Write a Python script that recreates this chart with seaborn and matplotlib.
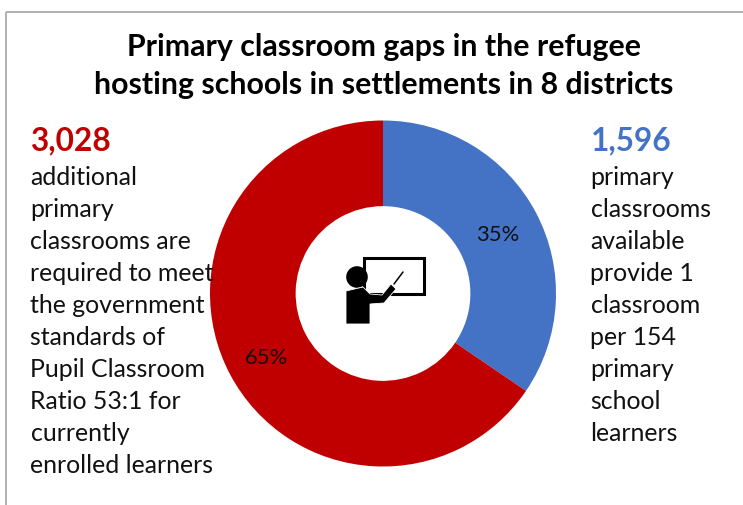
import matplotlib
matplotlib.use("Agg")
import matplotlib.pyplot as plt
from matplotlib.patches import Circle, Polygon, Rectangle
import seaborn as sns

segments = ["Classrooms available", "Additional classrooms required"]
classrooms = [1596, 3028]
segment_colors = ["#4472C4", "#C00000"]
percent_labels = ["35%", "65%"]

title_lines = ["Primary classroom gaps in the refugee", "hosting schools in settlements in 8 districts"]
left_total = "3,028"
left_lines = ["additional", "primary", "classrooms are", "required to meet", "the government",
              "standards of", "Pupil Classroom", "Ratio 53:1 for", "currently", "enrolled learners"]
right_total = "1,596"
right_lines = ["primary", "classrooms", "available", "provide 1", "classroom",
               "per 154", "primary", "school", "learners"]

sns.set_theme(style="white")
plt.rcParams["font.family"] = ["Lato", "DejaVu Sans"]

W, H = 743, 506
fig = plt.figure(figsize=(W / 100, H / 100), dpi=100, facecolor="white")

# Pixel-coordinate canvas for the frame, text and icon
canvas = fig.add_axes([0, 0, 1, 1], zorder=3)
canvas.set_xlim(0, W)
canvas.set_ylim(H, 0)
canvas.axis("off")
canvas.patch.set_alpha(0)

# Doughnut, clockwise from twelve o'clock
cx, cy, radius = 383, 294.5, 173
pie_ax = fig.add_axes([(cx - radius) / W, 1 - (cy + radius) / H, 2 * radius / W, 2 * radius / H], zorder=1)
pie_ax.pie(classrooms, colors=segment_colors, startangle=90, counterclock=False, radius=1.0,
           wedgeprops={"width": 0.495, "linewidth": 0})
pie_ax.set_xlim(-1, 1)
pie_ax.set_ylim(-1, 1)

# Frame: only the top and left edges fall inside the canvas
canvas.plot([6, 6], [H, 12.5], color="#ababab", lw=1.3, solid_capstyle="butt")
canvas.plot([6, W], [12.5, 12.5], color="#ababab", lw=1.3, solid_capstyle="butt")

for line, y in zip(title_lines, [47, 85]):
    canvas.text(384, y, line, ha="center", va="center", fontsize=21.8, fontweight="bold", color="black")

canvas.text(30.5, 141, left_total, ha="left", va="center", fontsize=22.8, fontweight="bold", color="#C00000")
for i, line in enumerate(left_lines):
    canvas.text(30.5, 177 + i * 32.1, line, ha="left", va="center", fontsize=17.9, color="#111111")

canvas.text(590.5, 141, right_total, ha="left", va="center", fontsize=22.8, fontweight="bold", color="#4472C4")
for i, line in enumerate(right_lines):
    canvas.text(590.5, 177 + i * 32.1, line, ha="left", va="center", fontsize=17.9, color="#111111")

for label, (x, y) in zip(percent_labels, [(498, 235), (267, 358)]):
    canvas.text(x, y, label, ha="center", va="center", fontsize=15.8, color="#111111")

# Teacher at a blackboard
canvas.add_patch(Rectangle((363.5, 258.5), 60.5, 36, fill=False, ec="black", lw=2.2, zorder=4))
canvas.add_patch(Circle((357, 278), 10.8, fc="black", ec="none", zorder=5))
canvas.add_patch(Polygon([(346, 292), (363, 288), (370, 295), (382, 296), (391, 285), (396, 290),
                          (384, 304), (370, 305), (370, 325), (346, 325)],
                         closed=True, fc="black", ec="white", lw=0.6, zorder=5))
canvas.plot([394, 403], [285, 273], color="black", lw=1.1, zorder=5)

fig.savefig("out.png", dpi=100, facecolor="white")
